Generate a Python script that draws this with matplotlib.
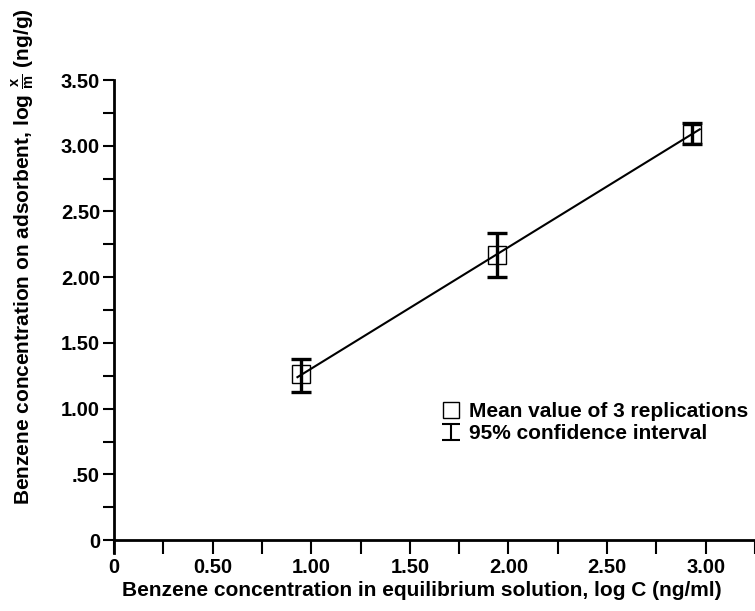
import numpy as np
import matplotlib.pyplot as plt
from matplotlib.lines import Line2D
from matplotlib.path import Path

plt.rcParams['font.family'] = ['Liberation Sans', 'DejaVu Sans']
plt.rcParams['font.weight'] = 'bold'
plt.rcParams['axes.labelweight'] = 'bold'
plt.rcParams['mathtext.fontset'] = 'custom'
plt.rcParams['mathtext.rm'] = 'Liberation Sans:bold'
plt.rcParams['mathtext.it'] = 'Liberation Sans:bold'
plt.rcParams['mathtext.bf'] = 'Liberation Sans:bold'

# log C (ng/ml) og log x/m (ng/g)
log_c = [0.95, 1.94, 2.93]
log_xm = [1.26, 2.17, 3.09]
ci_low = [1.13, 2.00, 3.01]
ci_high = [1.38, 2.34, 3.17]

x_ticks = [0, 0.5, 1.0, 1.5, 2.0, 2.5, 3.0]
x_labels = ["0", "0.50", "1.00", "1.50", "2.00", "2.50", "3.00"]
y_ticks = [0, 0.5, 1.0, 1.5, 2.0, 2.5, 3.0, 3.5]
y_labels = ["0", ".50", "1.00", "1.50", "2.00", "2.50", "3.00", "3.50"]

fig = plt.figure(figsize=(7.55, 6.11), dpi=100)
ax = fig.add_axes([0.151, 0.116, 0.849, 0.753])

# regresjonslinje
k, m = np.polyfit(log_c, log_xm, 1)
xs = np.array([log_c[0] - 0.02, log_c[-1] + 0.04])
ax.plot(xs, k * xs + m, color="black", lw=1.5)

y = np.array(log_xm)
yerr = [y - np.array(ci_low), np.array(ci_high) - y]
ax.errorbar(log_c, log_xm, yerr=yerr, fmt="none", ecolor="black",
            elinewidth=2.4, capsize=7, capthick=2.4)
ax.plot(log_c, log_xm, "s", ms=13, mfc="none", mec="black", mew=1.0)

ax.set_xlim(0, 3.24)
ax.set_ylim(0, 3.5)
ax.set_xticks(x_ticks)
ax.set_xticklabels(x_labels)
ax.set_yticks(y_ticks)
ax.set_yticklabels(y_labels)
ax.set_xticks(np.arange(0.25, 3.3, 0.5), minor=True)
ax.set_yticks(np.arange(0.25, 3.5, 0.5), minor=True)
ax.tick_params(axis="x", which="both", direction="out", length=10, width=1.5,
               labelsize=14.5, pad=3)
ax.tick_params(axis="y", which="both", direction="out", length=8, width=1.5,
               labelsize=14.5, pad=2)
ax.spines["left"].set_bounds(-0.1, 3.5)

for s in ["top", "right"]:
    ax.spines[s].set_visible(False)
for s in ["left", "bottom"]:
    ax.spines[s].set_linewidth(2)

ax.set_xlabel("Benzene concentration in equilibrium solution, log C (ng/ml)",
              fontsize=15)
ax.set_ylabel(r"Benzene concentration on adsorbent, log $\mathbf{\frac{x}{m}}$ (ng/g)",
              fontsize=15)
ax.xaxis.set_label_coords(0.48, -0.088)
ax.yaxis.set_label_coords(-0.122, 0.616)

# forklaring
ibeam = Path([(-0.6, -0.5), (0.6, -0.5), (0, -0.5), (0, 0.5), (-0.6, 0.5), (0.6, 0.5)],
             [Path.MOVETO, Path.LINETO, Path.MOVETO, Path.LINETO, Path.MOVETO, Path.LINETO])
h1 = Line2D([], [], marker="s", ls="none", ms=12, mfc="none", mec="black", mew=1.0)
h2 = Line2D([], [], marker=ibeam, ls="none", ms=13, mec="black", mew=1.5)
ax.legend([h1, h2], ["Mean value of 3 replications", "95% confidence interval"],
          loc="upper left", bbox_to_anchor=(0.496, 0.318), frameon=False,
          fontsize=15, handlelength=1.0, handletextpad=0.4, labelspacing=0.15,
          borderaxespad=0)

fig.savefig("out.png", dpi=100)
